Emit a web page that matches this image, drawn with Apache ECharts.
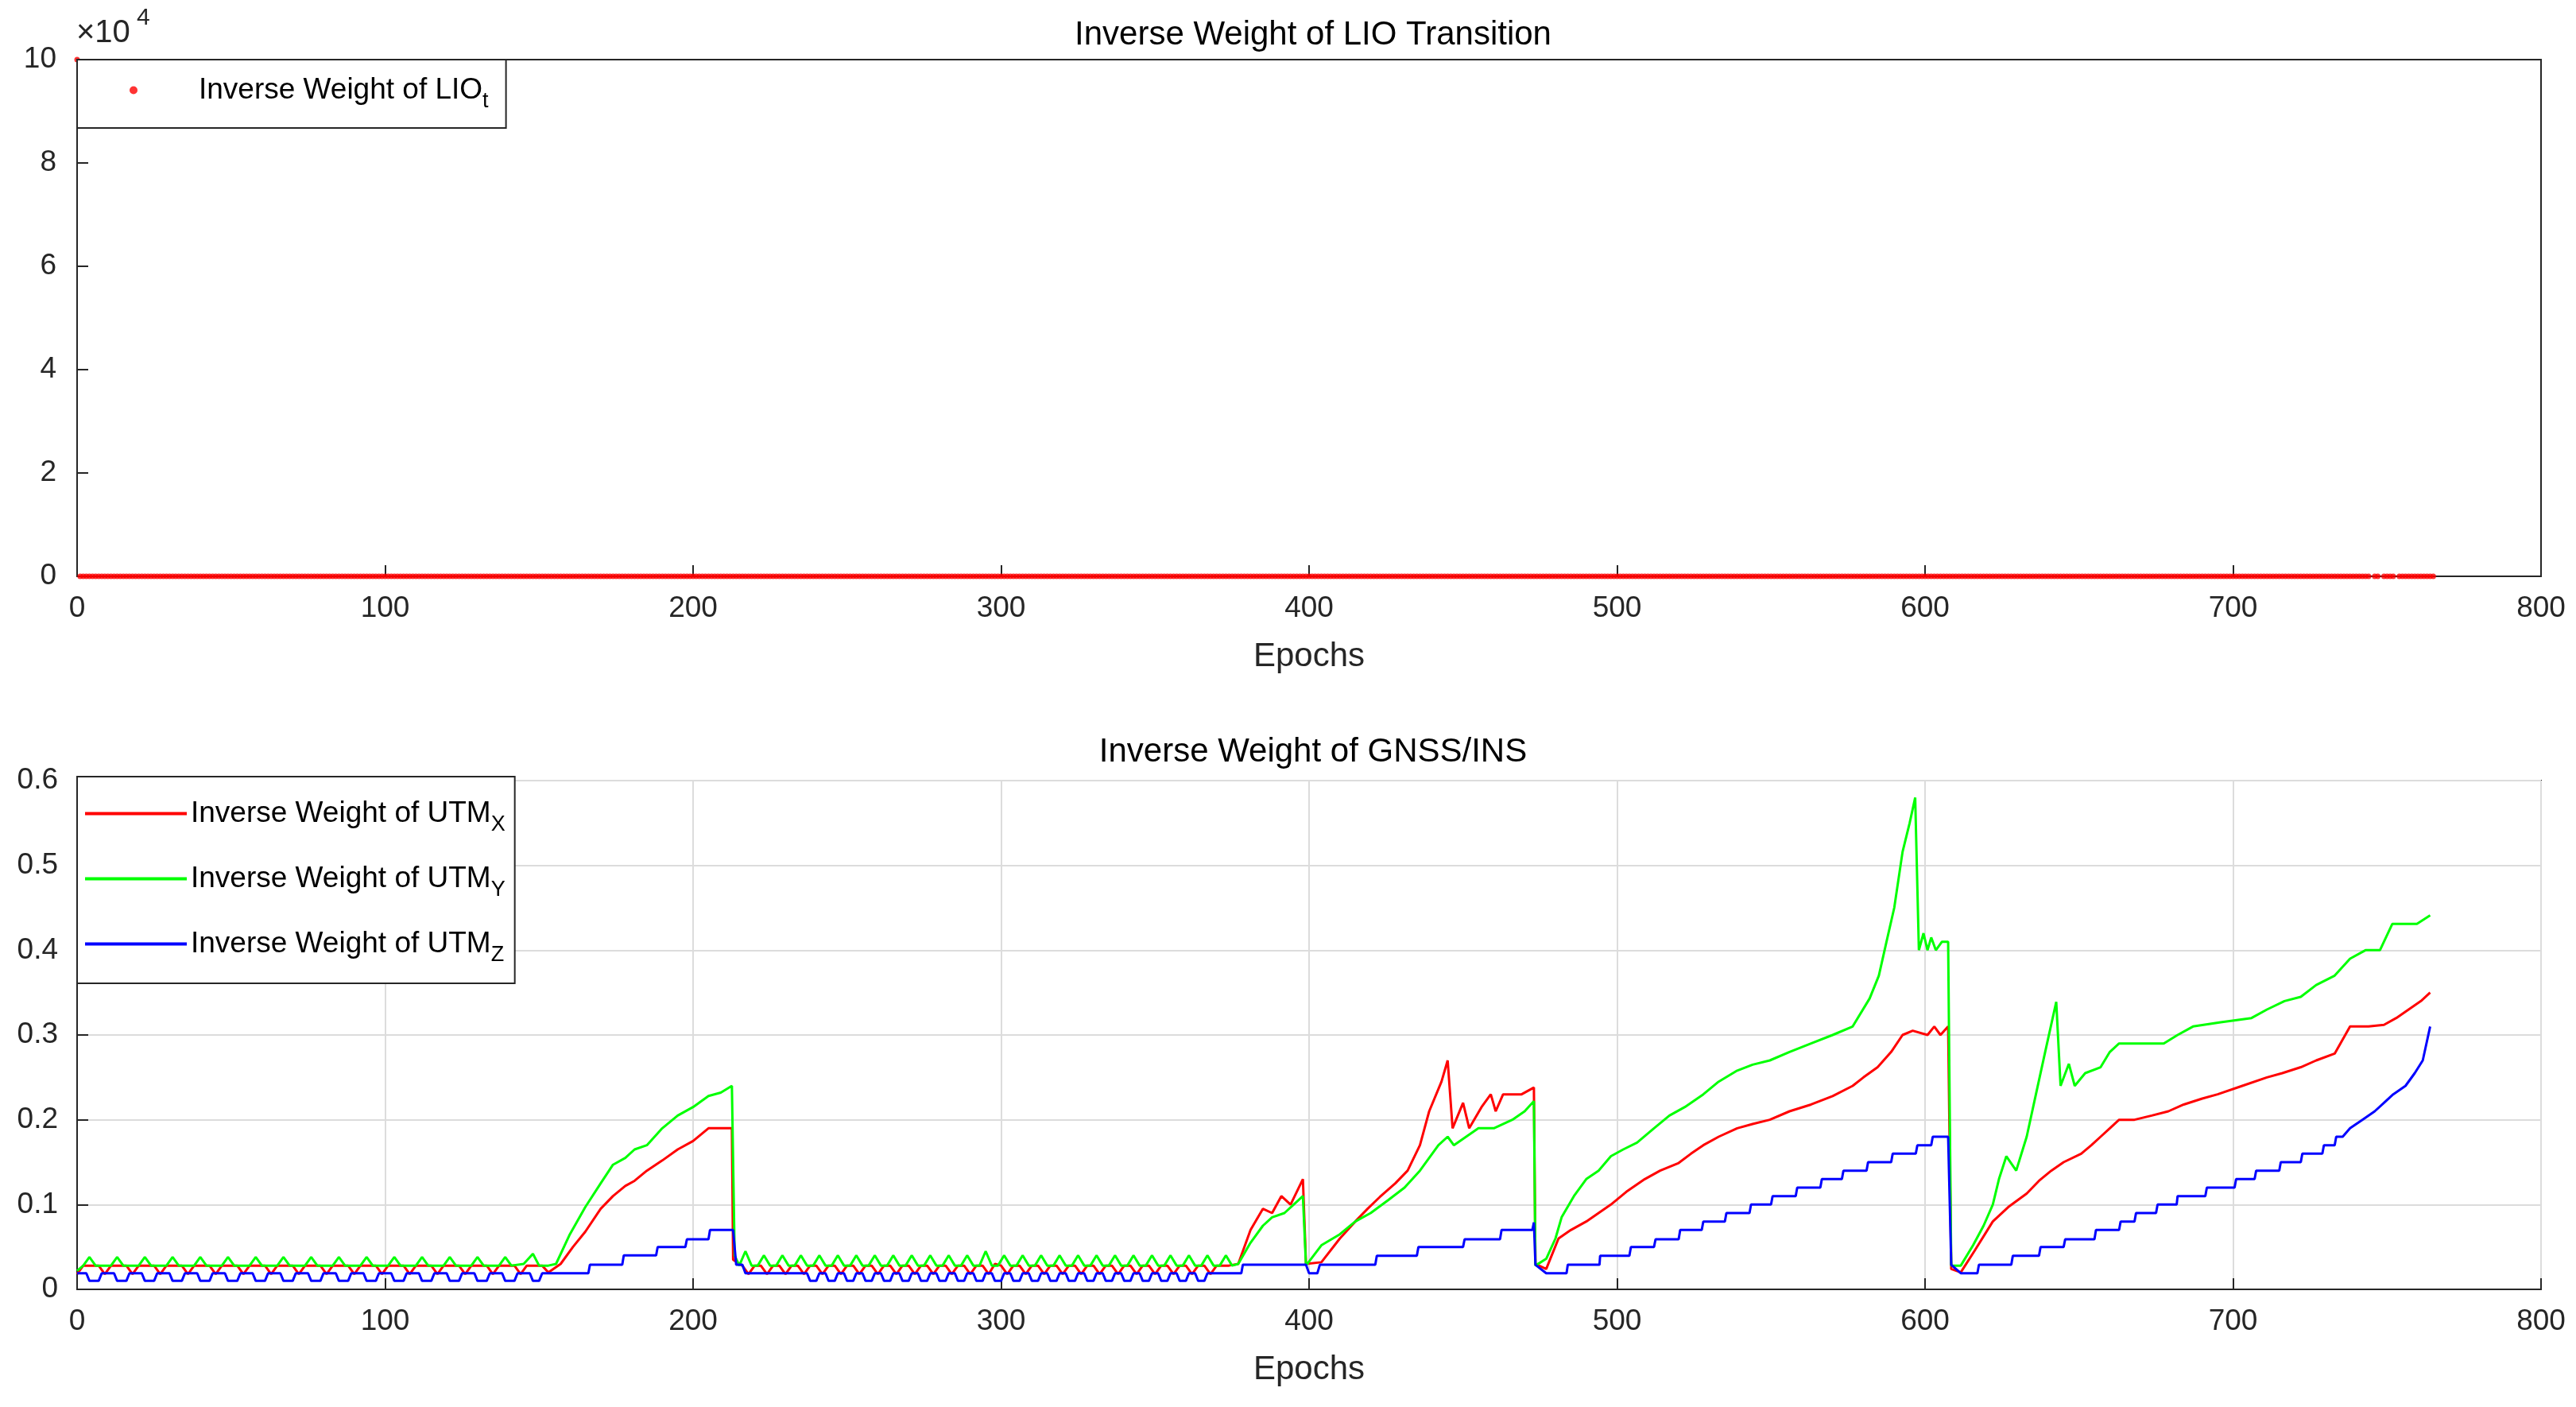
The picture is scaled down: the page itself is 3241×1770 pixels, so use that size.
<!DOCTYPE html>
<html lang="en" style="height: 100%">
<head>
  <meta charset="utf-8" />
  <title>Inverse Weight</title>
</head>
<body style="height: 100%; margin: 0; background: #fff">
  <div id="container" style="height: 100%"></div>
  <script src="https://cdn.jsdelivr.net/npm/echarts@6/dist/echarts.min.js"></script>
  <script>
    // LIO transition: first epoch is huge, rest sit at zero (gaps near the end)
    const lioFirst = [0, 100000];
    const lioZeroRanges = [[1, 744], [746, 747], [749, 752], [754, 765]];

    // GNSS/INS inverse weights, [epoch, value]
    const utmX = [
      [0,0.018],[2,0.028],[7,0.028],[9,0.018],[11,0.028],[16,0.028],[18,0.018],[20,0.028],[25,0.028],[27,0.018],[29,0.028],
      [34,0.028],[36,0.018],[38,0.028],[43,0.028],[45,0.018],[47,0.028],[52,0.028],[54,0.018],[56,0.028],[61,0.028],[63,0.018],
      [65,0.028],[70,0.028],[72,0.018],[74,0.028],[79,0.028],[81,0.018],[83,0.028],[88,0.028],[90,0.018],[92,0.028],[97,0.028],
      [99,0.018],[101,0.028],[106,0.028],[108,0.018],[110,0.028],[115,0.028],[117,0.018],[119,0.028],[124,0.028],[126,0.018],
      [128,0.028],[133,0.028],[135,0.018],[137,0.028],[142,0.028],[144,0.018],[146,0.028],[151,0.028],[153,0.02],[157,0.03],
      [161,0.05],[165,0.068],[170,0.095],[174,0.11],[178,0.122],[181,0.128],[185,0.14],[190,0.152],[195,0.165],[200,0.175],
      [205,0.19],[212.6,0.19],
      [213,0.035],[216,0.028],[218,0.018],[220,0.028],[222,0.028],[224,0.018],[226,0.028],[228,0.028],[230,0.018],[232,0.028],
      [234,0.028],[236,0.018],[238,0.028],[240,0.028],[242,0.018],[244,0.028],[246,0.028],[248,0.018],[250,0.028],[252,0.028],
      [254,0.018],[256,0.028],[258,0.028],[260,0.018],[262,0.028],[264,0.028],[266,0.018],[268,0.028],[270,0.028],[272,0.018],
      [274,0.028],[276,0.028],[278,0.018],[280,0.028],[282,0.028],[284,0.018],[286,0.028],[288,0.028],[290,0.018],[292,0.028],
      [294,0.028],[296,0.018],[298,0.03],[300,0.028],[302,0.018],[304,0.028],[306,0.028],[308,0.018],[310,0.028],[312,0.028],
      [314,0.018],[316,0.028],[318,0.028],[320,0.018],[322,0.028],[324,0.028],[326,0.018],[328,0.028],[330,0.028],[332,0.018],
      [334,0.028],[336,0.028],[338,0.018],[340,0.028],[342,0.028],[344,0.018],[346,0.028],[348,0.028],[350,0.018],[352,0.028],
      [354,0.028],[356,0.018],[358,0.028],[360,0.028],[362,0.018],[364,0.028],[366,0.028],[368,0.018],[370,0.028],[374,0.028],
      [377,0.03],[381,0.07],[385,0.095],[388,0.09],[391,0.11],[394,0.1],[398,0.13],[399,0.03],
      [404,0.032],[410,0.06],[415,0.08],[419,0.095],[423,0.109],[428,0.125],[432,0.14],[436,0.17],[439,0.21],[443,0.245],
      [445,0.27],[446.6,0.19],[450,0.22],[452,0.19],[456,0.215],[459,0.23],[460.6,0.21],[463,0.23],[466,0.23],[469,0.23],[473,0.238],
      [473.5,0.03],[477,0.024],[481,0.06],[485,0.07],[490,0.08],[494,0.09],[498,0.1],[503,0.115],[509,0.13],[514,0.14],
      [520,0.149],[524,0.16],[528,0.17],[533,0.18],[539,0.19],[544,0.195],[549.6,0.2],[556,0.21],[563,0.218],[570,0.228],
      [576.5,0.24],[580,0.25],[584.6,0.262],[589,0.28],[592.7,0.3],[596,0.305],[600.8,0.3],[603,0.31],[605,0.3],[607.5,0.31],
      [608.5,0.024],[611.6,0.02],[616,0.045],[622,0.08],[627,0.097],[633,0.113],[637,0.128],[641,0.14],[645,0.15],[650.7,0.16],
      [654,0.17],[657,0.18],[660,0.19],[663,0.2],[668,0.2],[673.6,0.205],[679,0.21],[684,0.218],[690,0.225],[695,0.23],
      [703,0.24],[711,0.25],[716,0.255],[722,0.262],[727,0.27],[733,0.278],[738,0.31],[744,0.31],[749,0.312],[753,0.32],
      [757,0.33],[761,0.34],[764,0.35]
    ];
    const utmY = [
      [0,0.022],[2,0.028],[4,0.038],[6,0.028],[11,0.028],[13,0.038],[15,0.028],[20,0.028],[22,0.038],[24,0.028],[29,0.028],
      [31,0.038],[33,0.028],[38,0.028],[40,0.038],[42,0.028],[47,0.028],[49,0.038],[51,0.028],[56,0.028],[58,0.038],[60,0.028],
      [65,0.028],[67,0.038],[69,0.028],[74,0.028],[76,0.038],[78,0.028],[83,0.028],[85,0.038],[87,0.028],[92,0.028],[94,0.038],
      [96,0.028],[101,0.028],[103,0.038],[105,0.028],[110,0.028],[112,0.038],[114,0.028],[119,0.028],[121,0.038],[123,0.028],
      [128,0.028],[130,0.038],[132,0.028],[137,0.028],[139,0.038],[141,0.028],[145,0.03],[148,0.042],[150,0.028],[153,0.028],
      [155.5,0.03],[160,0.065],[165,0.097],[170,0.125],[174,0.147],[178,0.155],[181,0.165],[185,0.17],[190,0.19],[195,0.205],
      [200,0.215],[205,0.228],[209,0.232],[212.6,0.24],
      [213.5,0.04],[215,0.028],[217,0.045],[219,0.028],[221,0.028],[223,0.04],[225,0.028],[227,0.028],[229,0.04],[231,0.028],
      [233,0.028],[235,0.04],[237,0.028],[239,0.028],[241,0.04],[243,0.028],[245,0.028],[247,0.04],[249,0.028],[251,0.028],
      [253,0.04],[255,0.028],[257,0.028],[259,0.04],[261,0.028],[263,0.028],[265,0.04],[267,0.028],[269,0.028],[271,0.04],
      [273,0.028],[275,0.028],[277,0.04],[279,0.028],[281,0.028],[283,0.04],[285,0.028],[287,0.028],[289,0.04],[291,0.028],
      [293,0.028],[295,0.045],[297,0.028],[299,0.028],[301,0.04],[303,0.028],[305,0.028],[307,0.04],[309,0.028],[311,0.028],
      [313,0.04],[315,0.028],[317,0.028],[319,0.04],[321,0.028],[323,0.028],[325,0.04],[327,0.028],[329,0.028],[331,0.04],
      [333,0.028],[335,0.028],[337,0.04],[339,0.028],[341,0.028],[343,0.04],[345,0.028],[347,0.028],[349,0.04],[351,0.028],
      [353,0.028],[355,0.04],[357,0.028],[359,0.028],[361,0.04],[363,0.028],[365,0.028],[367,0.04],[369,0.028],[371,0.028],
      [373,0.04],[375,0.028],[377,0.03],[381,0.055],[385,0.075],[388,0.085],[392,0.09],[395,0.1],[398,0.11],[399,0.028],
      [404,0.052],[410,0.065],[415,0.08],[420,0.09],[425.6,0.105],[431,0.12],[436,0.14],[442,0.17],[445,0.18],[447,0.17],
      [451,0.18],[455,0.19],[460,0.19],[466,0.2],[470,0.21],[473,0.222],
      [473.5,0.028],[477,0.036],[480,0.06],[482,0.085],[486,0.11],[490,0.13],[494,0.14],[498,0.157],[502,0.165],[506.5,0.173],
      [512,0.19],[517,0.205],[522,0.215],[528,0.23],[533,0.245],[539,0.258],[544,0.265],[549.6,0.27],[556,0.28],[563,0.29],
      [570,0.3],[576.5,0.31],[582,0.343],[585,0.37],[587.3,0.407],[590,0.45],[592.7,0.516],[595,0.55],[596.8,0.58],[598,0.4],
      [599.5,0.42],[600.8,0.4],[602,0.415],[603.5,0.4],[605.5,0.41],[607.5,0.41],
      [608.5,0.028],[611.6,0.028],[615.6,0.052],[619,0.075],[622,0.1],[624,0.13],[626.4,0.157],[629.6,0.14],[633,0.18],
      [636,0.23],[639,0.28],[642.6,0.339],[644,0.24],[646.7,0.266],[648.6,0.24],[652,0.255],[657,0.262],[660,0.28],[663,0.29],
      [670,0.29],[677.5,0.29],[682,0.3],[687,0.31],[696,0.315],[706,0.32],[711,0.33],[716.7,0.34],[722,0.345],[727,0.359],
      [733,0.37],[738,0.39],[743,0.4],[747.7,0.4],[751.7,0.431],[756,0.431],[759.7,0.431],[764,0.441]
    ];
    const utmZ = [
      [0,0.019],[3,0.019],[4,0.010],[7,0.010],[8,0.019],[12,0.019],[13,0.010],[16,0.010],[17,0.019],[21,0.019],[22,0.010],
      [25,0.010],[26,0.019],[30,0.019],[31,0.010],[34,0.010],[35,0.019],[39,0.019],[40,0.010],[43,0.010],[44,0.019],[48,0.019],
      [49,0.010],[52,0.010],[53,0.019],[57,0.019],[58,0.010],[61,0.010],[62,0.019],[66,0.019],[67,0.010],[70,0.010],[71,0.019],
      [75,0.019],[76,0.010],[79,0.010],[80,0.019],[84,0.019],[85,0.010],[88,0.010],[89,0.019],[93,0.019],[94,0.010],[97,0.010],
      [98,0.019],[102,0.019],[103,0.010],[106,0.010],[107,0.019],[111,0.019],[112,0.010],[115,0.010],[116,0.019],[120,0.019],
      [121,0.010],[124,0.010],[125,0.019],[129,0.019],[130,0.010],[133,0.010],[134,0.019],[138,0.019],[139,0.010],[142,0.010],
      [143,0.019],[147,0.019],[148,0.010],[150,0.010],[151,0.019],
      [166,0.019],[166.5,0.029],[177,0.029],[177.5,0.04],[188,0.04],[188.5,0.05],[197.5,0.05],[198,0.059],[205,0.059],
      [205.5,0.07],[213,0.07],[214,0.029],[216,0.029],[217,0.019],[237,0.019],[238,0.010],[240,0.010],[241,0.019],[243,0.019],
      [244,0.010],[246,0.010],[247,0.019],[249,0.019],[250,0.010],[252,0.010],[253,0.019],[255,0.019],[256,0.010],[258,0.010],
      [259,0.019],[261,0.019],[262,0.010],[264,0.010],[265,0.019],[267,0.019],[268,0.010],[270,0.010],[271,0.019],[273,0.019],
      [274,0.010],[276,0.010],[277,0.019],[279,0.019],[280,0.010],[282,0.010],[283,0.019],[285,0.019],[286,0.010],[288,0.010],
      [289,0.019],[291,0.019],[292,0.010],[294,0.010],[295,0.019],[297,0.019],[298,0.010],[300,0.010],[301,0.019],[303,0.019],
      [304,0.010],[306,0.010],[307,0.019],[309,0.019],[310,0.010],[312,0.010],[313,0.019],[315,0.019],[316,0.010],[318,0.010],
      [319,0.019],[321,0.019],[322,0.010],[324,0.010],[325,0.019],[327,0.019],[328,0.010],[330,0.010],[331,0.019],[333,0.019],
      [334,0.010],[336,0.010],[337,0.019],[339,0.019],[340,0.010],[342,0.010],[343,0.019],[345,0.019],[346,0.010],[348,0.010],
      [349,0.019],[351,0.019],[352,0.010],[354,0.010],[355,0.019],[357,0.019],[358,0.010],[360,0.010],[361,0.019],[363,0.019],
      [364,0.010],[366,0.010],[367,0.019],[378,0.019],[378.5,0.029],[399,0.029],[400,0.019],[402.7,0.019],[403.5,0.029],
      [421.5,0.029],[422,0.0395],[435,0.0395],[435.5,0.05],[450,0.05],[450.5,0.059],[462,0.059],[462.5,0.07],[472.5,0.07],
      [473,0.079],[473.5,0.029],[477,0.019],[483.6,0.019],[484,0.029],[494.3,0.029],[494.5,0.0395],[504,0.0395],[504.5,0.05],
      [512,0.05],[512.5,0.059],[520,0.059],[520.5,0.07],[527.5,0.07],[528,0.08],[535,0.08],[535.5,0.09],[543,0.09],[543.5,0.1],
      [550,0.1],[550.5,0.11],[558,0.11],[558.5,0.12],[566,0.12],[566.5,0.13],[573,0.13],[573.5,0.14],[581,0.14],[581.5,0.15],
      [589,0.15],[589.5,0.16],[597,0.16],[597.5,0.17],[602,0.17],[602.5,0.18],[607.5,0.18],[608.5,0.029],[611.6,0.019],
      [617,0.019],[617.5,0.029],[628,0.029],[628.5,0.0395],[637,0.0395],[637.5,0.05],[645,0.05],[645.5,0.059],[655,0.059],
      [655.5,0.07],[663,0.07],[663.5,0.08],[668,0.08],[668.5,0.09],[675,0.09],[675.5,0.1],[681.7,0.1],[682,0.11],[691,0.11],
      [691.5,0.12],[700.5,0.12],[701,0.13],[707,0.13],[707.5,0.14],[715,0.14],[715.5,0.15],[722,0.15],[722.5,0.16],[729,0.16],
      [729.5,0.17],[733,0.17],[733.5,0.18],[735.6,0.18],[738,0.19],[742,0.2],[746,0.21],[749,0.22],[752,0.23],[756,0.24],
      [759,0.255],[761.6,0.27],[764,0.31]
    ];

    const xTicks = [0, 800, 100];
    const topYTicks = [0, 100000, 20000];
    const bottomYTicks = [0, 0.6, 0.1];

    const lioData = [lioFirst];
    for (const r of lioZeroRanges) {
      for (let e = r[0]; e <= r[1]; e++) lioData.push([e, 0]);
    }

    const font = 'Liberation Sans, Arial, sans-serif';
    const tickLabel = { fontSize: 37, color: '#262626', fontFamily: font, margin: 22 };
    const nameStyle = { fontSize: 42, color: '#262626', fontFamily: font };
    const subRich = {
      n: { fontSize: 37, color: '#000', fontFamily: font },
      sub: { fontSize: 27, color: '#000', fontFamily: font, verticalAlign: 'bottom', padding: [28, 0, 0, 0] }
    };

    function xAxisFor(idx) {
      return {
        gridIndex: idx, type: 'value', min: xTicks[0], max: xTicks[1], interval: xTicks[2],
        name: 'Epochs', nameLocation: 'middle', nameGap: 80, nameTextStyle: nameStyle,
        axisLine: { show: true, onZero: false, lineStyle: { color: '#262626', width: 2 } },
        axisTick: { inside: true, length: 14, lineStyle: { color: '#262626', width: 2 } },
        axisLabel: tickLabel,
        splitLine: { show: idx === 1, lineStyle: { color: '#dcdcdc', width: 2 } }
      };
    }

    var dom = document.getElementById('container');
    var myChart = echarts.init(dom);

    var option = {
      backgroundColor: '#fff',
      animation: false,
      title: [
        { text: 'Inverse Weight of LIO Transition', left: 1647, top: 18, textAlign: 'center',
          textStyle: { fontSize: 42, fontWeight: 'normal', color: '#000', fontFamily: font } },
        { text: 'Inverse Weight of GNSS/INS', left: 1647, top: 920, textAlign: 'center',
          textStyle: { fontSize: 42, fontWeight: 'normal', color: '#000', fontFamily: font } }
      ],
      grid: [
        { left: 97, right: 44, top: 75, height: 650, show: true, borderColor: '#262626', borderWidth: 2 },
        { left: 97, right: 44, top: 982, height: 640, show: true, borderColor: '#262626', borderWidth: 2 }
      ],
      xAxis: [xAxisFor(0), xAxisFor(1)],
      yAxis: [
        {
          gridIndex: 0, type: 'value', min: topYTicks[0], max: topYTicks[1], interval: topYTicks[2],
          axisLine: { show: true, lineStyle: { color: '#262626', width: 2 } },
          axisTick: { inside: true, length: 14, lineStyle: { color: '#262626', width: 2 } },
          axisLabel: Object.assign({}, tickLabel, { formatter: v => String(v / 10000), margin: 26 }),
          splitLine: { show: false }
        },
        {
          gridIndex: 1, type: 'value', min: bottomYTicks[0], max: bottomYTicks[1], interval: bottomYTicks[2],
          axisLine: { show: true, lineStyle: { color: '#262626', width: 2 } },
          axisTick: { inside: true, length: 14, lineStyle: { color: '#262626', width: 2 } },
          axisLabel: Object.assign({}, tickLabel, { formatter: v => (v === 0 ? '0' : v.toFixed(1)), margin: 24 }),
          splitLine: { show: true, lineStyle: { color: '#dcdcdc', width: 2 } }
        }
      ],
      legend: [
        {
          data: [{ name: 'LIO', icon: 'circle' }],
          left: 97, top: 75, orient: 'vertical', itemWidth: 10, itemHeight: 10, itemGap: 20,
          padding: [20, 22, 20, 66], borderColor: '#262626', borderWidth: 2, backgroundColor: '#fff',
          formatter: () => '{n|       Inverse Weight of LIO}{sub|t}', textStyle: { rich: subRich }
        },
        {
          data: ['X', 'Y', 'Z'],
          left: 97, top: 977, orient: 'vertical', itemWidth: 128, itemHeight: 4, itemGap: 36, icon: 'rect',
          padding: [28, 12, 22, 10], borderColor: '#262626', borderWidth: 2, backgroundColor: '#fff',
          formatter: n => '{n|Inverse Weight of UTM}{sub|' + n + '}', textStyle: { rich: subRich }
        }
      ],
      graphic: [
        { type: 'text', left: 96, top: 22, style: { text: '×10', fontSize: 40, fill: '#262626', fontFamily: font } },
        { type: 'text', left: 172, top: 8, style: { text: '4', fontSize: 30, fill: '#262626', fontFamily: font } }
      ],
      series: [
        { name: 'LIO', type: 'scatter', xAxisIndex: 0, yAxisIndex: 0, data: lioData,
          symbolSize: 7, itemStyle: { color: '#ff0000' } },
        { name: 'X', type: 'line', xAxisIndex: 1, yAxisIndex: 1, data: utmX, showSymbol: false,
          lineStyle: { color: '#ff0000', width: 3 }, itemStyle: { color: '#ff0000' } },
        { name: 'Y', type: 'line', xAxisIndex: 1, yAxisIndex: 1, data: utmY, showSymbol: false,
          lineStyle: { color: '#00ff00', width: 3 }, itemStyle: { color: '#00ff00' } },
        { name: 'Z', type: 'line', xAxisIndex: 1, yAxisIndex: 1, data: utmZ, showSymbol: false,
          lineStyle: { color: '#0000ff', width: 3 }, itemStyle: { color: '#0000ff' } }
      ]
    };

    myChart.setOption(option);

    window.onresize = function() {
      myChart.resize();
    };
  </script>
</body>
</html>
